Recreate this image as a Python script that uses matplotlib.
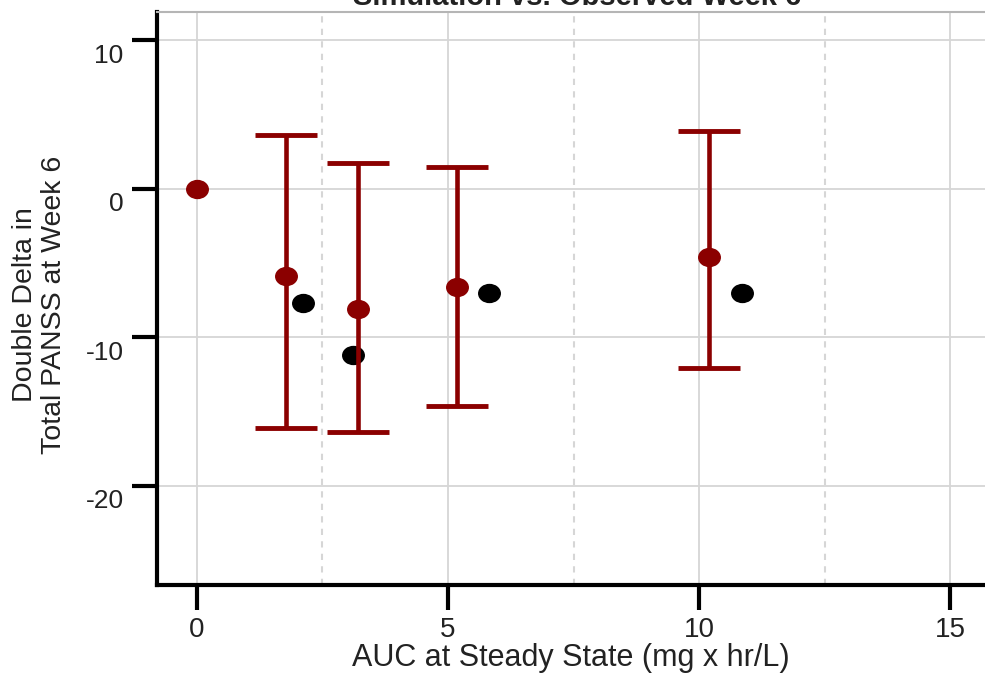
import numpy as np
import matplotlib
matplotlib.use('Agg')
import matplotlib.pyplot as plt
from matplotlib.path import Path
from matplotlib.transforms import Affine2D, ScaledTranslation
from matplotlib.ticker import MultipleLocator

plt.rcParams['font.family'] = ['Liberation Sans', 'DejaVu Sans']
plt.rcParams['axes.unicode_minus'] = False

# simulated (median with interval) and observed double delta values
sim_auc = [0.0, 1.78, 3.21, 5.18, 10.20]
sim_mid = [0.0, -5.9, -8.1, -6.6, -4.6]
sim_low = [0.0, -16.1, -16.4, -14.65, -12.1]
sim_high = [0.0, 3.6, 1.7, 1.45, 3.85]

obs_auc = [2.12, 3.11, 5.82, 10.86]
obs_mid = [-7.7, -11.2, -7.0, -7.05]

dark_red = '#8B0000'

# elliptical marker (picture is a bit stretched horizontally)
ellipse = Path.unit_circle().transformed(Affine2D().scale(1.2, 1.0))

fig = plt.figure(figsize=(9.85, 6.78), dpi=100)
ax = fig.add_axes([157 / 985, 1 - 585 / 678, 1 - 157 / 985, (585 - 12) / 678])

ax.set_xlim(-0.79, 15.69)
ax.set_ylim(-26.7, 11.9)

# grid
ax.xaxis.set_major_locator(MultipleLocator(5))
ax.xaxis.set_minor_locator(MultipleLocator(2.5))
ax.yaxis.set_major_locator(MultipleLocator(10))
ax.grid(which='major', color='#d6d6d6', lw=1.3)
ax.grid(which='minor', axis='x', color='#d6d6d6', lw=1.5, ls=(0, (3, 3)))
ax.set_axisbelow(True)

# observed
ax.plot(obs_auc, obs_mid, ls='none', marker=ellipse, ms=15.5, color='black', zorder=3)

# simulated with error bars
has_bar = [i for i in range(len(sim_auc)) if sim_high[i] != sim_low[i]]
xs = [sim_auc[i] for i in has_bar]
ys = [sim_mid[i] for i in has_bar]
lo = [sim_mid[i] - sim_low[i] for i in has_bar]
hi = [sim_high[i] - sim_mid[i] for i in has_bar]
ax.errorbar(xs, ys, yerr=[lo, hi], fmt='none', ecolor=dark_red, elinewidth=3.3,
            capsize=22.5, capthick=3.5, zorder=4)
ax.plot(sim_auc, sim_mid, ls='none', marker=ellipse, ms=15.5, color=dark_red, zorder=5)

# spines and ticks
for s in ['left', 'bottom']:
    ax.spines[s].set_linewidth(3)
    ax.spines[s].set_color('black')
ax.spines['right'].set_visible(False)
ax.spines['top'].set_color('#b5b5b5')
ax.spines['top'].set_linewidth(1.5)

ax.tick_params(which='major', direction='out', length=18, width=3, color='black')
ax.tick_params(which='minor', length=0)
ax.tick_params(axis='y', labelsize=19, pad=6, labelcolor='#222222')
ax.tick_params(axis='x', labelsize=20, pad=5, labelcolor='#222222')

# y tick labels sit slightly below their ticks
offset = ScaledTranslation(0, -0.13, fig.dpi_scale_trans)
for lab in ax.get_yticklabels():
    lab.set_transform(lab.get_transform() + offset)

ax.set_xlabel('AUC at Steady State (mg x hr/L)', fontsize=22, color='#222222', labelpad=0)
fig.text(40 / 985, 1 - 305 / 678, 'Double Delta in\nTotal PANSS at Week 6', rotation=90,
         ha='center', va='center', multialignment='center', fontsize=20.5,
         linespacing=1.15, color='#222222')

# title, cut off by the top edge in the original
fig.text(577 / 985, 1 - 5 / 678, 'Simulation vs. Observed Week 6', ha='center',
         va='baseline', fontsize=21, fontweight='bold', color='#222222')

fig.savefig('out.png', dpi=100)
